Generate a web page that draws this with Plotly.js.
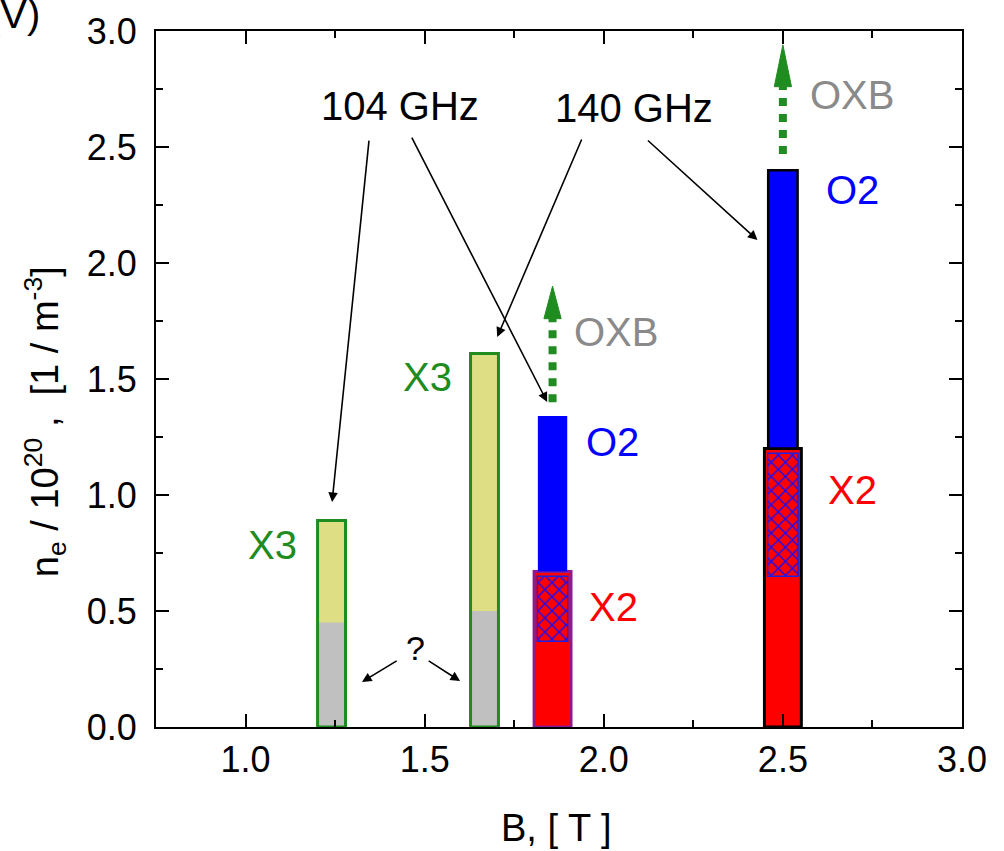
<!DOCTYPE html>
<html><head><meta charset="utf-8">
<script src="https://cdn.plot.ly/plotly-3.0.1.min.js"></script>
<style>html,body{margin:0;padding:0;background:#fff}#chart{width:1004px;height:851px}</style>
</head><body><div id="chart"></div>
<script>
// ---- data ----
const x3Field    = [1.24, 1.667];   // B [T] of X3 resonances (104 GHz, 140 GHz)
const x3Cutoff   = [0.89, 1.61];    // X3 density limit
const unknownTop = [0.45, 0.50];    // grey "?" part
const x2Field    = [1.857, 2.5];    // B [T] of X2/O2 resonances
const x2Cutoff   = [0.67, 1.20];    // X2 density limit
const o2Cutoff   = [1.34, 2.40];    // O2 density limit
const overlapLow = [0.37, 0.65];    // hatched overlap region
const overlapHigh= [0.65, 1.18];
const oxbStart   = [1.40, 2.47];    // OXB dotted arrows
const oxbHead    = [1.76, 2.76];
const oxbTip     = [1.90, 2.94];
const xTickVals  = [1.0, 1.5, 2.0, 2.5, 3.0];
const yTickVals  = [0.0, 0.5, 1.0, 1.5, 2.0, 2.5, 3.0];

const GREEN = '#1f8c1f', YELLOW = '#dede84', GREY = '#c0c0c0';
const FONT = 'Liberation Sans, Arial, sans-serif';

const traces = [];
traces.push({type:'bar', x:x3Field, y:x3Cutoff, width:0.078, marker:{color:YELLOW, line:{width:0}}, hoverinfo:'skip'});
traces.push({type:'bar', x:x3Field, y:unknownTop, width:0.078, marker:{color:GREY, line:{width:0}}, hoverinfo:'skip'});
traces.push({type:'bar', x:x3Field, y:x3Cutoff, width:0.078, marker:{color:'rgba(0,0,0,0)', line:{color:GREEN, width:3}}, hoverinfo:'skip'});
traces.push({type:'bar', x:x2Field, y:x2Cutoff, width:0.103, marker:{color:'#ff0000', line:{color:['#8e1a8e','#000000'], width:3}}, hoverinfo:'skip'});
traces.push({type:'bar', x:x2Field, base:overlapLow, y:overlapHigh.map((v,i)=>v-overlapLow[i]), width:0.085,
  marker:{color:'#ff0000', line:{color:'#2020e0', width:1.5},
          pattern:{shape:'x', fgcolor:'#1010ff', bgcolor:'#ff0000', size:10, solidity:0.25}}, hoverinfo:'skip'});
traces.push({type:'bar', x:x2Field, base:x2Cutoff, y:o2Cutoff.map((v,i)=>v-x2Cutoff[i]), width:0.082,
  marker:{color:'#0000ff', line:{color:['#0000ff','#000000'], width:[0,2.5]}}, hoverinfo:'skip'});

const hw = 0.024;
x2Field.forEach((x,i)=>{
  traces.push({type:'scatter', mode:'lines', x:[x,x], y:[oxbStart[i], oxbHead[i]],
    line:{color:GREEN, width:8, dash:'8px,8px'}, hoverinfo:'skip'});
  traces.push({type:'scatter', mode:'lines', x:[x-hw, x, x+hw, x-hw], y:[oxbHead[i], oxbTip[i], oxbHead[i], oxbHead[i]],
    fill:'toself', fillcolor:GREEN, line:{color:GREEN, width:1}, hoverinfo:'skip'});
});

function lab(text, x, y, color){
  return {text:text, x:x, y:y, xref:'x', yref:'y', xanchor:'center', yanchor:'middle', showarrow:false, font:{family:FONT, size:40, color:color}};
}
function arr(x, y, ax, ay){
  return {x:x, y:y, ax:ax, ay:ay, xref:'x', yref:'y', axref:'x', ayref:'y', text:'', showarrow:true,
          arrowhead:2, arrowsize:1.2, arrowwidth:1.6, arrowcolor:'#000', standoff:0, startstandoff:0};
}

const annotations = [
  lab('104 GHz', 1.4316, 2.677, '#000'),
  lab('140 GHz', 2.085, 2.668, '#000'),
  lab('OXB', 2.035, 1.703, '#8a8a8a'),
  lab('OXB', 2.694, 2.724, '#8a8a8a'),
  lab('O2', 2.694, 2.315, '#0000ff'),
  lab('O2', 2.024, 1.228, '#0000ff'),
  lab('X2', 2.027, 0.517, '#ff0000'),
  lab('X2', 2.694, 1.022, '#ff0000'),
  lab('X3', 1.074, 0.784, GREEN),
  lab('X3', 1.507, 1.509, GREEN),
  Object.assign(lab('?', 1.4735, 0.34, '#000'), {font:{family:FONT, size:34, color:'#000'}}),
  arr(1.2416, 0.970, 1.345, 2.534),
  arr(1.842, 1.401, 1.462, 2.547),
  arr(1.7025, 1.681, 1.94, 2.539),
  arr(2.429, 2.099, 2.119, 2.534),
  arr(1.325, 0.194, 1.426, 0.289),
  arr(1.599, 0.198, 1.507, 0.289),
  {text:'n<sub>e</sub> / 10<sup>20</sup> ,  [1 / m<sup>-3</sup>]', xref:'paper', yref:'paper', x:-0.1377, y:0.438,
   xanchor:'center', yanchor:'middle', textangle:-90, showarrow:false, font:{family:FONT, size:38, color:'#000'}},
  {text:'B, [ T ]', xref:'paper', yref:'paper', x:0.497, y:-0.145, xanchor:'center', yanchor:'middle',
   showarrow:false, font:{family:FONT, size:38, color:'#000'}},
  {text:'(V)', xref:'paper', yref:'paper', x:-0.1414, y:1.0244, xanchor:'right', yanchor:'middle', showarrow:false, font:{family:FONT, size:40, color:'#000'}}
];

const axisCommon = {showgrid:false, zeroline:false, showline:true, linecolor:'#000', linewidth:2, mirror:'ticks',
  ticks:'inside', ticklen:13, tickwidth:2, tickcolor:'#000', tickfont:{family:FONT, size:36, color:'#000'},
  minor:{ticks:'inside', ticklen:7, tickwidth:2, tickcolor:'#000', dtick:0.25}};

const layout = {
  width:1004, height:851, margin:{l:156, r:42, t:31, b:124}, paper_bgcolor:'#fff', plot_bgcolor:'#fff',
  showlegend:false, barmode:'overlay',
  xaxis:Object.assign({}, axisCommon, {range:[0.75, 3.0], tickvals:xTickVals, ticktext:xTickVals.map(v=>v.toFixed(1)), ticklabelstandoff:0}),
  yaxis:Object.assign({}, axisCommon, {range:[0, 3.0], tickvals:yTickVals, ticktext:yTickVals.map(v=>v.toFixed(1)), ticklabelstandoff:10}),
  annotations:annotations
};
Plotly.newPlot('chart', traces, layout, {staticPlot:true});
</script></body></html>
